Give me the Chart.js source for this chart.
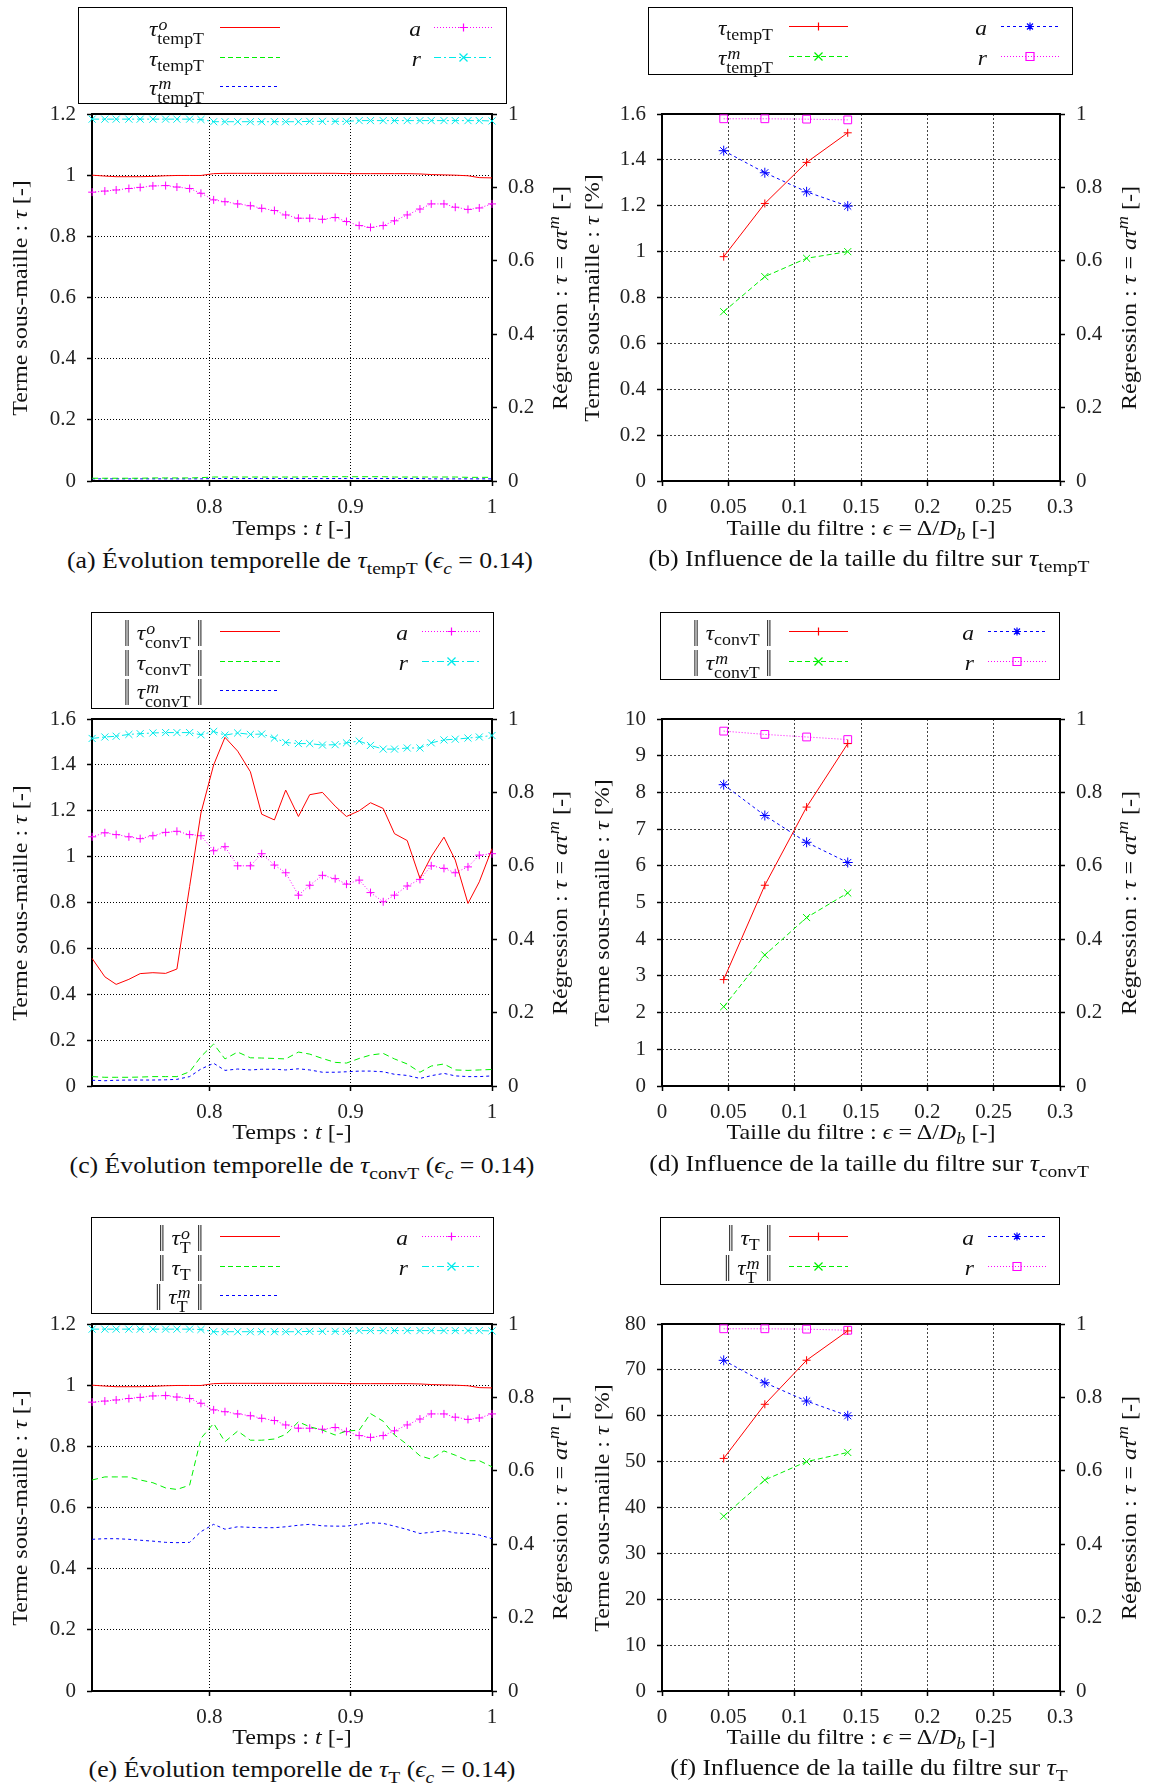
<!DOCTYPE html>
<html>
<head>
<meta charset="utf-8">
<script src="https://cdn.jsdelivr.net/npm/chart.js@4.4.0/dist/chart.umd.min.js"></script>
<style>
  body { margin: 0; background: #fff; width: 1150px; height: 1786px; position: relative; overflow: hidden;
         font-family: "Liberation Serif", "DejaVu Serif", serif; color: #111; }
  .t { position: absolute; white-space: nowrap; line-height: 26px; }
  .lgbox { position: absolute; border: 1.5px solid #000; box-sizing: border-box; }
  .lab { position: absolute; white-space: nowrap; font-size: 21px; line-height: 24px; text-align: right; width: 260px;
         transform-origin: right center; transform: scaleX(1.12); }
  sub { font-size: 0.76em; vertical-align: -0.32em; line-height: 0; }
  sup { font-size: 0.76em; vertical-align: 0.5em; line-height: 0; font-style: italic; }
  .ss { display: inline-block; vertical-align: -0.5em; font-size: 0.76em; line-height: 0.9; text-align: left; }
  .ss span { display: block; }
  .ss .o { font-style: italic; margin-left: 1px; }
  .nb { display: inline-block; font-family: "DejaVu Serif", serif; font-size: 1.2em; line-height: 0;
        transform: scaleX(0.5); margin: 0 -3px; color: #333; }
</style>
</head>
<body>
<script>
// ---- time series, panels (a), (c), (e) ----
const timeT = [0.717, 0.726, 0.734, 0.743, 0.751, 0.760, 0.769, 0.777, 0.786, 0.794, 0.803, 0.811,
  0.820, 0.829, 0.837, 0.846, 0.854, 0.863, 0.871, 0.880, 0.889, 0.897, 0.906, 0.914, 0.923, 0.931,
  0.940, 0.949, 0.957, 0.966, 0.974, 0.983, 0.991, 1.000];
const timeTicks = [0.8, 0.9, 1];

const tempT_o = [1.000, 0.997, 0.995, 0.995, 0.995, 0.996, 0.998, 0.999, 0.999, 0.999, 1.005, 1.006,
  1.006, 1.006, 1.006, 1.006, 1.006, 1.006, 1.006, 1.006, 1.006, 1.005, 1.005, 1.005, 1.005, 1.005,
  1.005, 1.004, 1.002, 1.001, 1.000, 0.998, 0.992, 0.991];
const tempT = [0.009, 0.009, 0.009, 0.009, 0.009, 0.010, 0.010, 0.010, 0.010, 0.011, 0.013, 0.013,
  0.013, 0.013, 0.013, 0.013, 0.013, 0.013, 0.014, 0.014, 0.014, 0.014, 0.014, 0.014, 0.014, 0.013,
  0.013, 0.013, 0.013, 0.013, 0.013, 0.012, 0.012, 0.012];
const tempT_m = [0.007, 0.007, 0.007, 0.007, 0.007, 0.007, 0.007, 0.007, 0.007, 0.007, 0.008, 0.008,
  0.008, 0.008, 0.008, 0.008, 0.008, 0.008, 0.008, 0.008, 0.008, 0.008, 0.008, 0.008, 0.008, 0.008,
  0.008, 0.008, 0.007, 0.007, 0.007, 0.007, 0.007, 0.007];
const tempT_a = [0.787, 0.790, 0.793, 0.797, 0.800, 0.804, 0.805, 0.801, 0.797, 0.784, 0.766, 0.761,
  0.755, 0.750, 0.743, 0.737, 0.725, 0.716, 0.716, 0.713, 0.718, 0.707, 0.696, 0.691, 0.696, 0.709,
  0.725, 0.741, 0.755, 0.755, 0.746, 0.740, 0.744, 0.755];
const tempT_r = [0.986, 0.986, 0.986, 0.986, 0.986, 0.986, 0.986, 0.986, 0.986, 0.985, 0.979, 0.979,
  0.979, 0.979, 0.979, 0.979, 0.979, 0.979, 0.980, 0.980, 0.980, 0.980, 0.982, 0.982, 0.982, 0.982,
  0.982, 0.982, 0.982, 0.982, 0.982, 0.982, 0.982, 0.981];

const convT_o = [0.556, 0.476, 0.443, 0.465, 0.490, 0.494, 0.491, 0.510, 0.870, 1.190, 1.400, 1.520,
  1.460, 1.370, 1.185, 1.160, 1.290, 1.175, 1.270, 1.280, 1.220, 1.175, 1.200, 1.235, 1.210, 1.100,
  1.070, 0.905, 1.000, 1.085, 0.985, 0.796, 0.890, 1.035];
const convT = [0.041, 0.038, 0.038, 0.038, 0.039, 0.041, 0.041, 0.041, 0.062, 0.128, 0.183, 0.118,
  0.148, 0.123, 0.122, 0.120, 0.118, 0.148, 0.139, 0.120, 0.103, 0.100, 0.120, 0.135, 0.142, 0.118,
  0.096, 0.060, 0.087, 0.096, 0.070, 0.068, 0.070, 0.072];
const convT_m = [0.025, 0.023, 0.025, 0.026, 0.026, 0.026, 0.027, 0.029, 0.041, 0.074, 0.099, 0.068,
  0.074, 0.070, 0.073, 0.073, 0.070, 0.075, 0.070, 0.060, 0.060, 0.062, 0.065, 0.065, 0.062, 0.051,
  0.046, 0.033, 0.045, 0.055, 0.044, 0.041, 0.041, 0.044];
const convT_a = [0.679, 0.690, 0.685, 0.679, 0.674, 0.682, 0.691, 0.694, 0.685, 0.682, 0.641, 0.652,
  0.600, 0.600, 0.633, 0.602, 0.581, 0.520, 0.547, 0.574, 0.565, 0.550, 0.561, 0.527, 0.502, 0.520,
  0.545, 0.563, 0.600, 0.593, 0.581, 0.597, 0.629, 0.633];
const convT_r = [0.947, 0.951, 0.953, 0.958, 0.960, 0.962, 0.963, 0.963, 0.963, 0.957, 0.966, 0.956,
  0.962, 0.958, 0.959, 0.948, 0.936, 0.933, 0.933, 0.929, 0.930, 0.935, 0.940, 0.928, 0.918, 0.918,
  0.921, 0.921, 0.935, 0.943, 0.945, 0.948, 0.951, 0.955];

const T_o = [1.000, 0.997, 0.995, 0.995, 0.995, 0.996, 0.998, 0.999, 0.999, 0.999, 1.005, 1.006,
  1.006, 1.006, 1.006, 1.006, 1.006, 1.006, 1.006, 1.006, 1.006, 1.005, 1.005, 1.005, 1.005, 1.005,
  1.005, 1.004, 1.002, 1.001, 1.000, 0.998, 0.992, 0.991];
const T = [0.690, 0.700, 0.700, 0.700, 0.690, 0.681, 0.664, 0.659, 0.673, 0.826, 0.875, 0.815,
  0.850, 0.820, 0.820, 0.824, 0.839, 0.880, 0.864, 0.853, 0.837, 0.850, 0.853, 0.907, 0.882, 0.837,
  0.806, 0.769, 0.758, 0.785, 0.771, 0.753, 0.753, 0.733];
const T_m = [0.496, 0.498, 0.498, 0.496, 0.493, 0.490, 0.486, 0.485, 0.486, 0.521, 0.545, 0.529,
  0.537, 0.535, 0.534, 0.534, 0.537, 0.542, 0.545, 0.540, 0.539, 0.539, 0.545, 0.550, 0.548, 0.539,
  0.528, 0.515, 0.519, 0.524, 0.517, 0.515, 0.510, 0.498];
const T_a = [0.787, 0.790, 0.793, 0.797, 0.800, 0.804, 0.805, 0.801, 0.797, 0.784, 0.766, 0.761,
  0.755, 0.750, 0.743, 0.737, 0.725, 0.716, 0.716, 0.713, 0.718, 0.707, 0.696, 0.691, 0.696, 0.709,
  0.725, 0.741, 0.755, 0.755, 0.746, 0.740, 0.744, 0.755];
const T_r = [0.986, 0.986, 0.986, 0.986, 0.986, 0.986, 0.986, 0.986, 0.986, 0.985, 0.979, 0.979,
  0.979, 0.979, 0.979, 0.979, 0.979, 0.979, 0.980, 0.980, 0.980, 0.980, 0.982, 0.982, 0.982, 0.982,
  0.982, 0.982, 0.982, 0.982, 0.982, 0.982, 0.982, 0.981];

// ---- filter size, panels (b), (d), (f) ----
const filterEps = [0.0465, 0.0775, 0.109, 0.14];
const epsTicks = [0, 0.05, 0.1, 0.15, 0.2, 0.25, 0.3];

const tempF_tau = [0.978, 1.210, 1.389, 1.518];
const tempF_taum = [0.738, 0.891, 0.971, 1.000];
const tempF_a = [0.900, 0.840, 0.788, 0.749];
const tempF_r = [0.987, 0.987, 0.986, 0.984];

const convF_tau = [2.90, 5.47, 7.60, 9.33];
const convF_taum = [2.16, 3.57, 4.59, 5.26];
const convF_a = [0.821, 0.737, 0.664, 0.609];
const convF_r = [0.967, 0.958, 0.951, 0.944];

const TF_tau = [50.7, 62.5, 72.1, 78.5];
const TF_taum = [38.1, 46.0, 50.0, 52.0];
const TF_a = [0.901, 0.840, 0.790, 0.750];
const TF_r = [0.987, 0.987, 0.986, 0.983];

// ---- drawing ----
const RED = '#ff0000', GREEN = '#00f000', BLUE = '#0000ff', MAG = '#ff00ff', CYAN = '#00eaea';
const W_LEFT = 80, W_RIGHT = 70, PAD_TOP = 30, H_BOTTOM = 46;

function fmt(v) { return String(Number(v.toFixed(3))); }

function ds(data, xs, color, dash, axis, style, radius) {
  return {
    data: xs.map((x, i) => ({ x: x, y: data[i] })),
    borderColor: color, backgroundColor: 'transparent', borderWidth: 1, borderDash: dash,
    yAxisID: axis, tension: 0, clip: false,
    pointStyle: style || 'circle', pointRadius: style ? radius : 0,
    pointBorderColor: color, pointBackgroundColor: 'transparent', pointBorderWidth: 1
  };
}

const frame = {
  id: 'frame',
  beforeDatasetsDraw(c) {
    const a = c.chartArea, ctx = c.ctx;
    ctx.save();
    ctx.strokeStyle = '#000';
    ctx.lineWidth = 2;
    ctx.strokeRect(a.left, a.top, a.right - a.left, a.bottom - a.top);
    ctx.restore();
  }
};

function makeChart(area, xMin, xMax, xTicks, yMax, yStep, gridColor, gridDash, datasets) {
  const cv = document.createElement('canvas');
  const w = area.r - area.l + W_LEFT + W_RIGHT;
  const h = area.b - area.t + PAD_TOP + H_BOTTOM;
  cv.width = w; cv.height = h;
  cv.style.cssText = 'position:absolute;left:' + (area.l - W_LEFT) + 'px;top:' + (area.t - PAD_TOP) +
    'px;width:' + w + 'px;height:' + h + 'px';
  document.body.appendChild(cv);
  const tickFont = { family: 'Liberation Serif', size: 21 };
  const gridBase = { color: gridColor, lineWidth: 1, tickLength: 5, tickColor: '#000', tickWidth: 1.5, tickBorderDash: [] };
  return new Chart(cv, {
    type: 'line',
    data: { datasets: datasets },
    options: {
      responsive: false, animation: false, devicePixelRatio: 1,
      layout: { padding: { top: PAD_TOP, left: 0, right: 0, bottom: 0 } },
      plugins: { legend: { display: false }, tooltip: { enabled: false } },
      scales: {
        x: {
          type: 'linear', min: xMin, max: xMax,
          afterBuildTicks: s => { s.ticks = xTicks.map(v => ({ value: v })); },
          afterFit: s => { s.height = H_BOTTOM; },
          grid: gridBase,
          border: { display: false, dash: gridDash },
          ticks: { font: tickFont, color: '#222', padding: 9, maxRotation: 0, autoSkip: false, callback: v => fmt(v) }
        },
        y: {
          type: 'linear', position: 'left', min: 0, max: yMax,
          afterFit: s => { s.width = W_LEFT; },
          grid: gridBase,
          border: { display: false, dash: gridDash },
          ticks: { font: tickFont, color: '#222', padding: 11, stepSize: yStep, callback: v => fmt(v) }
        },
        y2: {
          type: 'linear', position: 'right', min: 0, max: 1,
          afterFit: s => { s.width = W_RIGHT; },
          grid: Object.assign({}, gridBase, { drawOnChartArea: false }),
          border: { display: false },
          ticks: { font: tickFont, color: '#222', padding: 11, stepSize: 0.2, callback: v => fmt(v) }
        }
      }
    },
    plugins: [frame]
  });
}

// html helpers
function put(html, cx, cy, size, rot) {
  const d = document.createElement('div');
  d.className = 't';
  d.innerHTML = html;
  d.style.fontSize = size + 'px';
  d.style.left = cx + 'px';
  d.style.top = cy + 'px';
  d.style.transform = 'translate(-50%,-50%)' + (rot ? ' rotate(-90deg)' : '') + ' scaleX(1.12)';
  document.body.appendChild(d);
}

function markerPath(kind, c, y, r) {
  if (kind === 'plus') return 'M' + (c - r) + ',' + y + 'H' + (c + r) + 'M' + c + ',' + (y - r) + 'V' + (y + r);
  if (kind === 'x') return 'M' + (c - r) + ',' + (y - r) + 'L' + (c + r) + ',' + (y + r) + 'M' + (c - r) + ',' + (y + r) + 'L' + (c + r) + ',' + (y - r);
  if (kind === 'star') return markerPath('plus', c, y, r) + markerPath('x', c, y, r * 0.75);
  if (kind === 'sq') return 'M' + (c - r) + ',' + (y - r) + 'h' + (2 * r) + 'v' + (2 * r) + 'h' + (-2 * r) + 'Z';
  return '';
}

function legend(box, rows) {
  const b = document.createElement('div');
  b.className = 'lgbox';
  b.style.cssText = 'left:' + box.l + 'px;top:' + box.t + 'px;width:' + (box.r - box.l) + 'px;height:' + (box.b - box.t) + 'px';
  document.body.appendChild(b);
  rows.forEach(e => {
    const l = document.createElement('div');
    l.className = 'lab';
    l.innerHTML = e.html;
    l.style.left = (e.end - 260) + 'px';
    l.style.top = (e.y - 10) + 'px';
    document.body.appendChild(l);
    const w = e.s2 - e.s1;
    const m = e.marker ? '<path d="' + markerPath(e.marker, w / 2, 8.5, 4) + '"/>' : '';
    const s = document.createElement('div');
    s.style.cssText = 'position:absolute;left:' + e.s1 + 'px;top:' + (e.y - 8.5) + 'px;width:' + w + 'px;height:17px';
    s.innerHTML = '<svg width="' + w + '" height="17"><g stroke="' + e.color + '" stroke-width="1.2" fill="none">' +
      '<line x1="0" y1="8.5" x2="' + w + '" y2="8.5" stroke-dasharray="' + e.dash.join(' ') + '"/>' + m + '</g></svg>';
    document.body.appendChild(s);
  });
}

function tau(sup, sub) {
  if (sup) return '<i>τ</i><span class="ss"><span class="o">' + sup + '</span><span>' + sub + '</span></span>';
  return '<i>τ</i><sub>' + sub + '</sub>';
}
function norm(h) { return '<span class="nb">‖</span> ' + h + ' <span class="nb">‖</span>'; }

const DASH_G = [5, 3], DASH_B = [3, 3], DASH_M = [1, 2], DASH_C = [7, 3, 2, 3];

// panel geometry (plot areas)
const PA = { l: 92, r: 492, t: 114, b: 481 };
const PB = { l: 662, r: 1060, t: 114, b: 481 };
const PC = { l: 92, r: 492, t: 719, b: 1086 };
const PD = { l: 662, r: 1060, t: 719, b: 1086 };
const PE = { l: 92, r: 492, t: 1324, b: 1691 };
const PF = { l: 662, r: 1060, t: 1324, b: 1691 };

function timePanel(area, yMax, o, s, m, a, r) {
  makeChart(area, 0.7169, 1.0, timeTicks, yMax, 0.2, '#000', [1, 2], [
    ds(o, timeT, RED, [], 'y'),
    ds(s, timeT, GREEN, [6, 4], 'y'),
    ds(m, timeT, BLUE, [3, 3], 'y'),
    ds(a, timeT, MAG, DASH_M, 'y2', 'cross', 4),
    ds(r, timeT, CYAN, DASH_C, 'y2', 'crossRot', 5)
  ]);
}
function filterPanel(area, yMax, yStep, tv, tm, a, r) {
  makeChart(area, 0, 0.3, epsTicks, yMax, yStep, '#444', [2, 2], [
    ds(tv, filterEps, RED, [], 'y', 'cross', 4),
    ds(tm, filterEps, GREEN, [5, 3], 'y', 'crossRot', 5),
    ds(a, filterEps, BLUE, [3, 3], 'y2', 'star', 5),
    ds(r, filterEps, MAG, [1, 2], 'y2', 'rect', 5.5)
  ]);
}

timePanel(PA, 1.2, tempT_o, tempT, tempT_m, tempT_a, tempT_r);
timePanel(PC, 1.6, convT_o, convT, convT_m, convT_a, convT_r);
timePanel(PE, 1.2, T_o, T, T_m, T_a, T_r);
filterPanel(PB, 1.6, 0.2, tempF_tau, tempF_taum, tempF_a, tempF_r);
filterPanel(PD, 10, 1, convF_tau, convF_taum, convF_a, convF_r);
filterPanel(PF, 80, 10, TF_tau, TF_taum, TF_a, TF_r);

// legends
function timeLegend(box, rows, labels, rEnd, rs1, rs2) {
  legend(box, [
    { html: labels[0], end: 204, s1: 220, s2: 280, y: rows[0], color: RED, dash: [] },
    { html: labels[1], end: 204, s1: 220, s2: 280, y: rows[1], color: GREEN, dash: DASH_G },
    { html: labels[2], end: 204, s1: 220, s2: 280, y: rows[2], color: BLUE, dash: DASH_B },
    { html: '<i>a</i>', end: rEnd, s1: rs1, s2: rs2, y: rows[0], color: MAG, dash: DASH_M, marker: 'plus' },
    { html: '<i>r</i>', end: rEnd, s1: rs1, s2: rs2, y: rows[1], color: CYAN, dash: DASH_C, marker: 'x' }
  ]);
}
function filterLegend(box, rows, labels, rEnd, rs1, rs2) {
  legend(box, [
    { html: labels[0], end: 773, s1: 789, s2: 848, y: rows[0], color: RED, dash: [], marker: 'plus' },
    { html: labels[1], end: 773, s1: 789, s2: 848, y: rows[1], color: GREEN, dash: DASH_G, marker: 'x' },
    { html: '<i>a</i>', end: rEnd, s1: rs1, s2: rs2, y: rows[0], color: BLUE, dash: DASH_B, marker: 'star' },
    { html: '<i>r</i>', end: rEnd, s1: rs1, s2: rs2, y: rows[1], color: MAG, dash: DASH_M, marker: 'sq' }
  ]);
}

timeLegend({ l: 78, t: 7, r: 507, b: 104 }, [27, 57, 86],
  [tau('o', 'tempT'), tau(null, 'tempT'), tau('m', 'tempT')], 421, 434, 493);
timeLegend({ l: 91, t: 612, r: 494, b: 709 }, [631, 661, 690],
  [norm(tau('o', 'convT')), norm(tau(null, 'convT')), norm(tau('m', 'convT'))], 408, 422, 481);
timeLegend({ l: 91, t: 1217, r: 494, b: 1314 }, [1236, 1266, 1295],
  [norm(tau('o', 'T')), norm(tau(null, 'T')), norm(tau('m', 'T'))], 408, 422, 481);
filterLegend({ l: 648, t: 7, r: 1073, b: 75 }, [26, 56],
  [tau(null, 'tempT'), tau('m', 'tempT')], 987, 1001, 1059);
filterLegend({ l: 660, t: 612, r: 1060, b: 680 }, [631, 661],
  [norm(tau(null, 'convT')), norm(tau('m', 'convT'))], 974, 988, 1046);
filterLegend({ l: 660, t: 1217, r: 1060, b: 1285 }, [1236, 1266],
  [norm(tau(null, 'T')), norm(tau('m', 'T'))], 974, 988, 1046);

// axis titles and captions
const yLeftTime = 'Terme sous-maille : <i>τ</i> [-]';
const yLeftFilt = 'Terme sous-maille : <i>τ</i> [%]';
const yRight = 'Régression : <i>τ</i> = <i>aτ</i><sup>m</sup> [-]';
const xTime = 'Temps : <i>t</i> [-]';
const xFilt = 'Taille du filtre : <i>ϵ</i> = Δ/<i>D</i><sub><i>b</i></sub> [-]';
const epsC = '(<i>ϵ</i><sub><i>c</i></sub> = 0.14)';
const TS = 21.5, CS = 23;

put(yLeftTime, 20, 298, TS, true); put(yRight, 560, 298, TS, true);
put(yLeftFilt, 592, 298, TS, true); put(yRight, 1129, 298, TS, true);
put(yLeftTime, 20, 903, TS, true); put(yRight, 560, 903, TS, true);
put(yLeftFilt, 602, 903, TS, true); put(yRight, 1129, 903, TS, true);
put(yLeftTime, 20, 1508, TS, true); put(yRight, 560, 1508, TS, true);
put(yLeftFilt, 602, 1508, TS, true); put(yRight, 1129, 1508, TS, true);

put(xTime, 292, 528, TS); put(xFilt, 861, 528, TS);
put(xTime, 292, 1132, TS); put(xFilt, 861, 1132, TS);
put(xTime, 292, 1737, TS); put(xFilt, 861, 1737, TS);

put('(a) Évolution temporelle de ' + tau(null, 'tempT') + ' ' + epsC, 300, 561, CS);
put('(b) Influence de la taille du filtre sur ' + tau(null, 'tempT'), 869, 559, CS);
put('(c) Évolution temporelle de ' + tau(null, 'convT') + ' ' + epsC, 302, 1166, CS);
put('(d) Influence de la taille du filtre sur ' + tau(null, 'convT'), 869, 1164, CS);
put('(e) Évolution temporelle de ' + tau(null, 'T') + ' ' + epsC, 302, 1770, CS);
put('(f) Influence de la taille du filtre sur ' + tau(null, 'T'), 869, 1768, CS);
</script>
</body>
</html>
